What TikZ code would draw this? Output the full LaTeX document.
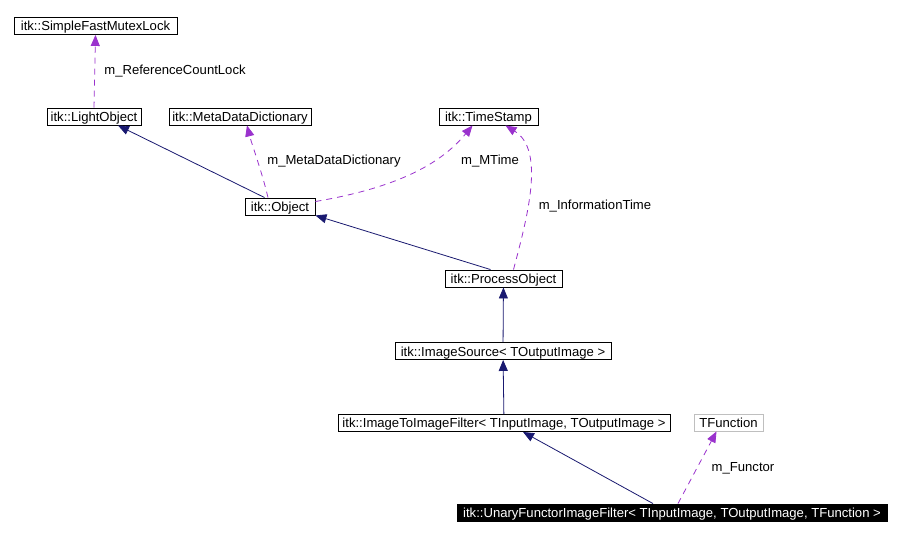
\documentclass[tikz,border=0pt]{standalone}
\usepackage{fontspec}
\setmainfont{Liberation Sans}
\usetikzlibrary{arrows.meta,calc}
\definecolor{inhcol}{HTML}{191970}
\definecolor{usecol}{HTML}{9A32CD}
\definecolor{greybd}{HTML}{BFBFBF}
\begin{document}
\begin{tikzpicture}[x=1pt,y=-1pt,
  font=\fontsize{13.1}{15}\selectfont,
  cls/.style={draw=black,line width=0.9pt,fill=white,inner sep=0pt,minimum height=17pt,text height=10.5pt,text depth=0.5pt,anchor=center},
  inh/.style={draw=inhcol,line width=0.8pt,-{Triangle[length=11pt,width=9pt]}},
  use/.style={draw=usecol,line width=0.8pt,dash pattern=on 6pt off 5pt,-{Triangle[length=11pt,width=9pt,fill=usecol]}},
  lbl/.style={inner sep=0pt,anchor=center}]
\fill[white] (0,0) rectangle (900,537);
\useasboundingbox (0,0) rectangle (900,537);
% nodes
\node[cls,minimum width=163pt] (sfml) at (95.5,26) {itk::SimpleFastMutexLock};
\node[cls,minimum width=94pt] (light) at (94,116.5) {itk::LightObject};
\node[cls,minimum width=142pt] (mdd) at (240,116.5) {itk::MetaDataDictionary};
\node[cls,minimum width=99pt] (ts) at (488.5,116.5) {itk::TimeStamp};
\node[cls,minimum width=70pt] (obj) at (280,206.5) {itk::Object};
\node[cls,minimum width=117pt] (po) at (503.5,278.5) {itk::ProcessObject};
\node[cls,minimum width=216pt] (is) at (503,351) {itk::ImageSource< TOutputImage >};
\node[cls,minimum width=332pt] (itif) at (504,423) {itk::ImageToImageFilter< TInputImage, TOutputImage >};
\node[cls,draw=greybd,minimum width=69pt] (tf) at (728.5,422.5) {TFunction};
\node[cls,fill=black,text=white,minimum width=430pt] (uf) at (672,512.5) {itk::UnaryFunctorImageFilter< TInputImage, TOutputImage, TFunction >};
% inheritance
\draw[inh] ($(obj.north west)+(20,0)$) -- ($(light.south)+(24,0)$);
\draw[inh] ($(po.north)+(-13,0)$) -- (obj.south east);
\draw[inh] (is) -- (po);
\draw[inh] (itif) -- (is);
\draw[inh] ($(uf.north)+(-19,0)$) -- ($(itif.south)+(19,0)$);
% usage
\draw[use] (light.north) -- (sfml.south);
\draw[use] ($(obj.north)+(-12,0)$) .. controls (262,172) and (252,145) .. ($(mdd.south)+(7,0)$);
\draw[use] ($(obj.east)+(0,-5)$) .. controls (395,188) and (440,165) .. ($(ts.south)+(-16,0)$);
\draw[use] ($(po.north)+(10,0)$) .. controls (528,215) and (545,150) .. ($(ts.south)+(17,0)$);
\draw[use] ($(uf.north)+(6,0)$) -- ($(tf.south)+(-12,0)$);
% labels
\node[lbl] (l1) at (175,71) {m\_ReferenceCountLock};
\node[lbl] (l2) at (334,161) {m\_MetaDataDictionary};
\node[lbl] (l3) at (490,161) {m\_MTime};
\node[lbl] (l4) at (595,206) {m\_InformationTime};
\node[lbl] (l5) at (743,468) {m\_Functor};
\end{tikzpicture}
\end{document}
